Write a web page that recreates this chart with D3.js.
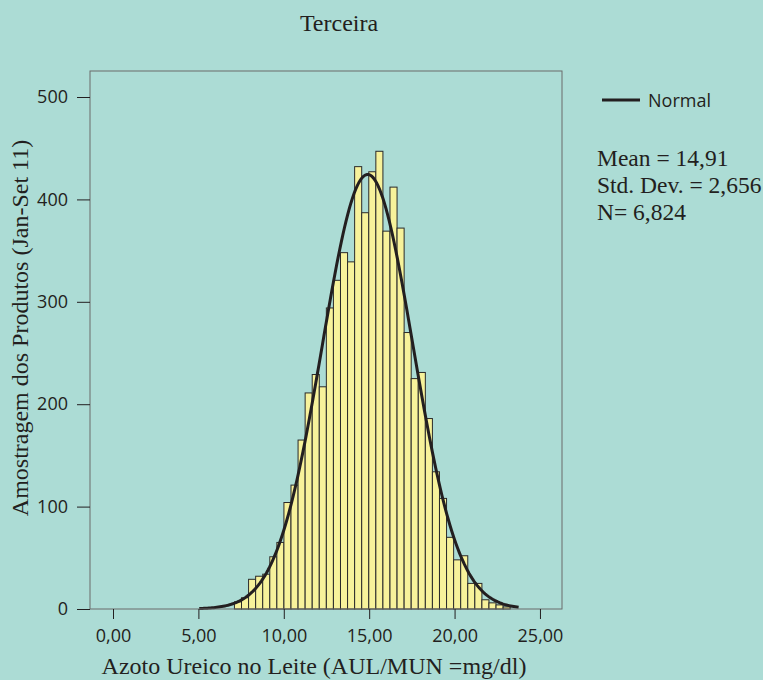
<!DOCTYPE html>
<html>
<head>
<meta charset="utf-8">
<script src="https://cdn.jsdelivr.net/npm/d3@7"></script>
<style>
  body { margin: 0; background: #acdcd5; }
  svg { display: block; }
  .tick text { font-family: "Open Sans", sans-serif; font-size: 18px; fill: #231f20; }
  .tick line { stroke: #231f20; }
  .serif { font-family: "Liberation Serif", serif; fill: #231f20; }
</style>
</head>
<body>
<svg id="chart" width="763" height="680"></svg>
<script>
// histogram counts, left to right
var counts = [7, 11, 29, 32, 34, 51, 65, 104, 121, 165, 211, 229, 217, 294, 321, 348, 339,
  432, 387, 427, 447, 369, 412, 372, 270, 225, 231, 186, 134, 108, 70, 48, 52, 25, 25, 9, 6, 4, 2];
var binStart = 7.11;
var binWidth = 0.414;

var xTicks = [0, 5, 10, 15, 20, 25];
var yTicks = [0, 100, 200, 300, 400, 500];

var mean = 14.91;
var stdDev = 2.656;
var total = 6824;
var curveRange = [5.05, 23.75];

var title = "Terceira";
var xTitle = "Azoto Ureico no Leite (AUL/MUN =mg/dl)";
var yTitle = "Amostragem dos Produtos (Jan-Set 11)";
var legendLabel = "Normal";
var statLines = ["Mean = 14,91", "Std. Dev. = 2,656", "N= 6,824"];

var svg = d3.select("#chart");
var plotLeft = 90, plotRight = 562, plotTop = 71, plotBottom = 609;

var x = d3.scaleLinear().domain([-1.347, 26.29]).range([plotLeft, plotRight]);
var y = d3.scaleLinear().domain([0, 525.4]).range([plotBottom, plotTop]);

// --- bars ---
svg.append("g").selectAll("rect")
  .data(counts)
  .enter().append("rect")
  .attr("x", function(d, i) { return x(binStart + i * binWidth); })
  .attr("width", function(d, i) { return x(binStart + (i + 1) * binWidth) - x(binStart + i * binWidth); })
  .attr("y", function(d) { return y(d); })
  .attr("height", function(d) { return y(0) - y(d); })
  .attr("fill", "#f7f29b")
  .attr("stroke", "#2a2a2a")
  .attr("stroke-width", 1);

// --- normal curve ---
var pts = [];
for (var k = 0; k <= 200; k++) {
  var v = curveRange[0] + (curveRange[1] - curveRange[0]) * k / 200;
  var z = (v - mean) / stdDev;
  pts.push([v, total * binWidth * Math.exp(-0.5 * z * z) / (stdDev * Math.sqrt(2 * Math.PI))]);
}
svg.append("path")
  .datum(pts)
  .attr("fill", "none")
  .attr("stroke", "#231f20")
  .attr("stroke-width", 3)
  .attr("d", d3.line().x(function(d) { return x(d[0]); }).y(function(d) { return y(d[1]); }));

// frame
svg.append("rect")
  .attr("x", plotLeft).attr("y", plotTop)
  .attr("width", plotRight - plotLeft).attr("height", plotBottom - plotTop)
  .attr("fill", "none").attr("stroke", "#6b6b6b").attr("stroke-width", 1);

// --- axes ---
var xAxis = svg.append("g")
  .attr("transform", "translate(0," + plotBottom + ")")
  .call(d3.axisBottom(x).tickValues(xTicks).tickSize(10).tickPadding(10)
    .tickFormat(function(d) { return d3.format(".2f")(d).replace(".", ","); }));
xAxis.select(".domain").remove();

var yAxis = svg.append("g")
  .attr("transform", "translate(" + plotLeft + ",0)")
  .call(d3.axisLeft(y).tickValues(yTicks).tickSize(13).tickPadding(9).tickFormat(d3.format("d")));
yAxis.select(".domain").remove();

// titles
svg.append("text").attr("class", "serif")
  .attr("x", 339).attr("y", 31).attr("text-anchor", "middle")
  .style("font-size", "24px").text(title);

svg.append("text").attr("class", "serif")
  .attr("x", 314).attr("y", 674).attr("text-anchor", "middle")
  .style("font-size", "24px").text(xTitle);

svg.append("text").attr("class", "serif")
  .attr("transform", "translate(28,328) rotate(-90)").attr("text-anchor", "middle")
  .style("font-size", "24px").text(yTitle);

// --- legend ---
svg.append("line")
  .attr("x1", 602).attr("x2", 640).attr("y1", 100).attr("y2", 100)
  .attr("stroke", "#231f20").attr("stroke-width", 3);
svg.append("text")
  .attr("x", 648).attr("y", 107)
  .style("font-family", "'Open Sans', sans-serif").style("font-size", "18px").style("fill", "#231f20")
  .text(legendLabel);

svg.append("g").selectAll("text")
  .data(statLines)
  .enter().append("text").attr("class", "serif")
  .attr("x", 597).attr("y", function(d, i) { return 166 + i * 27; })
  .style("font-size", "23.5px")
  .text(function(d) { return d; });
</script>
</body>
</html>
